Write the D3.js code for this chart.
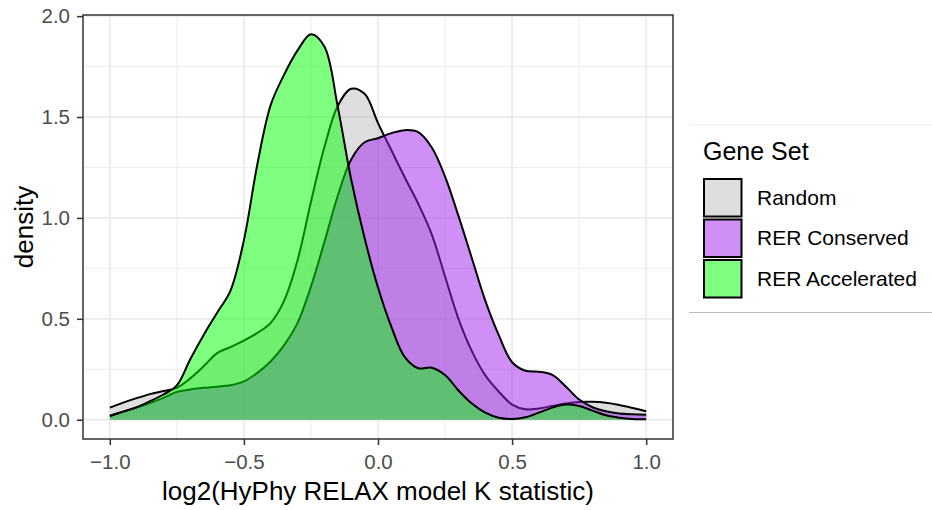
<!DOCTYPE html>
<html>
<head>
<meta charset="utf-8">
<script src="https://cdn.jsdelivr.net/npm/d3@7"></script>
<style>
  body { margin: 0; background: #fff; }
  svg { display: block; font-family: "Liberation Sans", Arial, Helvetica, sans-serif; }
</style>
</head>
<body>
<svg id="chart" width="932" height="510"></svg>
<script>
// evaluation points of the density curves (log2 K)
const kValues = [-1.00, -0.95, -0.90, -0.85, -0.80, -0.75, -0.70, -0.65, -0.60, -0.55,
                 -0.50, -0.45, -0.40, -0.35, -0.30, -0.25, -0.20, -0.15, -0.10, -0.05,
                  0.00,  0.05,  0.10,  0.15,  0.20,  0.25,  0.30,  0.35,  0.40,  0.45,
                  0.50,  0.55,  0.60,  0.65,  0.70,  0.75,  0.80,  0.85,  0.90,  0.95, 1.00];

const randomDensity = [0.060, 0.085, 0.107, 0.127, 0.142, 0.158, 0.205, 0.265, 0.330, 0.360,
                       0.392, 0.430, 0.480, 0.590, 0.790, 1.080, 1.350, 1.555, 1.640, 1.615,
                       1.470, 1.335, 1.200, 1.070, 0.920, 0.710, 0.500, 0.340, 0.220, 0.140,
                       0.075, 0.052, 0.056, 0.068, 0.080, 0.088, 0.089, 0.084, 0.073, 0.058, 0.042];

const conservedDensity = [0.020, 0.040, 0.060, 0.083, 0.108, 0.138, 0.150, 0.158, 0.164, 0.171,
                          0.190, 0.232, 0.290, 0.370, 0.480, 0.660, 0.880, 1.110, 1.290, 1.375,
                          1.395, 1.420, 1.435, 1.425, 1.350, 1.205, 1.010, 0.800, 0.590, 0.420,
                          0.285, 0.243, 0.238, 0.222, 0.165, 0.100, 0.062, 0.042, 0.031, 0.027, 0.025];

const acceleratedDensity = [0.018, 0.040, 0.062, 0.092, 0.125, 0.170, 0.300, 0.420, 0.530, 0.640,
                            0.890, 1.265, 1.560, 1.710, 1.830, 1.910, 1.850, 1.550, 1.190, 0.900,
                            0.655, 0.460, 0.310, 0.255, 0.258, 0.222, 0.145, 0.080, 0.035, 0.010,
                            0.004, 0.012, 0.035, 0.060, 0.075, 0.068, 0.045, 0.022, 0.010, 0.004, 0.002];

const groupNames = ['Random', 'RER Conserved', 'RER Accelerated'];
const groupColors = ['#bebebe', '#a020f0', '#00ff00'];
const xTicks = [-1.0, -0.5, 0.0, 0.5, 1.0];
const yTicks = [0.0, 0.5, 1.0, 1.5, 2.0];

const svg = d3.select('#chart');
const panel = { left: 83, right: 673, top: 15, bottom: 439 };

const groups = [randomDensity, conservedDensity, acceleratedDensity].map((vals, i) => ({
    name: groupNames[i],
    color: groupColors[i],
    values: vals
}));

// ggplot style 5% expansion
const xMin = d3.min(kValues), xMax = d3.max(kValues);
const xPad = (xMax - xMin) * 0.05;
const x = d3.scaleLinear().domain([xMin - xPad, xMax + xPad]).range([panel.left, panel.right]);
const yTop = d3.max(groups, g => d3.max(g.values));
const y = d3.scaleLinear().domain([-yTop * 0.05, yTop * 1.05]).range([panel.bottom, panel.top]);

// grid
const grid = svg.append('g');
const xMinor = xTicks.slice(1).map((t, i) => (t + xTicks[i]) / 2);
const yMinor = yTicks.slice(1).map((t, i) => (t + yTicks[i]) / 2);
grid.selectAll('.vminor').data(xMinor).enter().append('line')
    .attr('x1', d => x(d)).attr('x2', d => x(d))
    .attr('y1', panel.top).attr('y2', panel.bottom)
    .attr('stroke', '#ebebeb').attr('stroke-width', 0.9);
grid.selectAll('.hminor').data(yMinor).enter().append('line')
    .attr('y1', d => y(d)).attr('y2', d => y(d))
    .attr('x1', panel.left).attr('x2', panel.right)
    .attr('stroke', '#ebebeb').attr('stroke-width', 0.9);
grid.selectAll('.vmajor').data(xTicks).enter().append('line')
    .attr('x1', d => x(d)).attr('x2', d => x(d))
    .attr('y1', panel.top).attr('y2', panel.bottom)
    .attr('stroke', '#ebebeb').attr('stroke-width', 1.8);
grid.selectAll('.hmajor').data(yTicks).enter().append('line')
    .attr('y1', d => y(d)).attr('y2', d => y(d))
    .attr('x1', panel.left).attr('x2', panel.right)
    .attr('stroke', '#ebebeb').attr('stroke-width', 1.8);

// densities
const curve = d3.curveCatmullRom.alpha(0.5);
const area = d3.area()
    .x((d, i) => x(kValues[i]))
    .y0(y(0))
    .y1(d => y(d))
    .curve(curve);
const outline = d3.line()
    .x((d, i) => x(kValues[i]))
    .y(d => y(d))
    .curve(curve);

groups.forEach(g => {
    svg.append('path')
        .attr('d', area(g.values))
        .attr('fill', g.color)
        .attr('fill-opacity', 0.5);
    svg.append('path')
        .attr('d', outline(g.values))
        .attr('fill', 'none')
        .attr('stroke', '#000')
        .attr('stroke-width', 2);
});

// panel border
svg.append('rect')
    .attr('x', panel.left).attr('y', panel.top)
    .attr('width', panel.right - panel.left).attr('height', panel.bottom - panel.top)
    .attr('fill', 'none').attr('stroke', '#333').attr('stroke-width', 1.5);

// axes
const fmt = d3.format('.1f');
const xAxis = svg.append('g')
    .attr('transform', `translate(0,${panel.bottom})`)
    .call(d3.axisBottom(x).tickValues(xTicks).tickFormat(fmt).tickSize(6).tickPadding(9));
const yAxis = svg.append('g')
    .attr('transform', `translate(${panel.left},0)`)
    .call(d3.axisLeft(y).tickValues(yTicks).tickFormat(fmt).tickSize(6).tickPadding(7));
[xAxis, yAxis].forEach(a => {
    a.select('.domain').remove();
    a.selectAll('.tick line').attr('stroke', '#333').attr('stroke-width', 1.5);
    a.selectAll('.tick text')
        .attr('fill', '#4d4d4d')
        .style('font-size', '20.5px')
        .style('font-family', '"Liberation Sans", Arial, sans-serif');
});

// axis titles
svg.append('text')
    .attr('x', (panel.left + panel.right) / 2)
    .attr('y', 500)
    .attr('text-anchor', 'middle')
    .style('font-size', '26px')
    .text('log2(HyPhy RELAX model K statistic)');
svg.append('text')
    .attr('transform', `translate(33,${(panel.top + panel.bottom) / 2}) rotate(-90)`)
    .attr('text-anchor', 'middle')
    .style('font-size', '26px')
    .text('density');

// legend
const legend = svg.append('g');
legend.append('line')
    .attr('x1', 689).attr('x2', 932).attr('y1', 125).attr('y2', 125)
    .attr('stroke', '#eeeeee').attr('stroke-width', 1);
legend.append('line')
    .attr('x1', 689).attr('x2', 932).attr('y1', 312.5).attr('y2', 312.5)
    .attr('stroke', '#bbbbbb').attr('stroke-width', 1);
legend.append('text')
    .attr('x', 703).attr('y', 160)
    .style('font-size', '25px')
    .text('Gene Set');

const keySize = 40.5;
const keys = legend.selectAll('.key').data(groups).enter().append('g')
    .attr('transform', (d, i) => `translate(703,${178 + i * keySize})`);
keys.append('rect')
    .attr('x', 1).attr('y', 1)
    .attr('width', keySize - 3).attr('height', keySize - 3)
    .attr('fill', d => d.color)
    .attr('fill-opacity', 0.5)
    .attr('stroke', '#000')
    .attr('stroke-width', 2);
keys.append('text')
    .attr('x', 54)
    .attr('y', keySize / 2 - 1)
    .attr('dy', '0.35em')
    .style('font-size', '21px')
    .text(d => d.name);
</script>
</body>
</html>
